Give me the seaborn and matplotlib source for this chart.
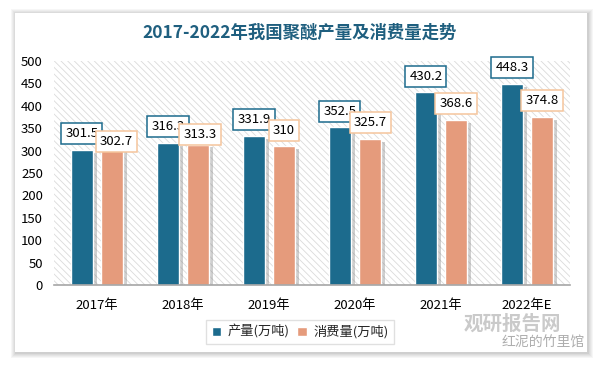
import matplotlib
matplotlib.use("Agg")
import matplotlib.pyplot as plt
import matplotlib.patheffects as pe
from matplotlib.patches import Rectangle
import seaborn as sns
import pandas as pd

categories = ["2017年", "2018年", "2019年", "2020年", "2021年", "2022年E"]
production = [301.5, 316.3, 331.9, 352.5, 430.2, 448.3]
consumption = [302.7, 313.3, 310, 325.7, 368.6, 374.8]
series_names = ["产量(万吨)", "消费量(万吨)"]
yticks = [0, 50, 100, 150, 200, 250, 300, 350, 400, 450, 500]

# label placement tweaks (pixels) for the consumption labels
cons_dx = [4, 2, 0, 0, 0, 0]
cons_dy = [-3, 0, 5, 6, 6, 6]
prod_dy = [6, 6, 6, 5, 5, 6]

sns.set_theme(style="white")
plt.rcParams["font.family"] = ["Noto Sans CJK SC", "DejaVu Sans"]
plt.rcParams["hatch.linewidth"] = 0.6

BLUE = "#1c6b8d"
ORANGE = "#e59b7c"
ORANGE_EDGE = "#f5c59c"

df = pd.DataFrame({
    "year": categories * 2,
    "value": production + consumption,
    "series": [series_names[0]] * len(categories) + [series_names[1]] * len(categories),
})

fig = plt.figure(figsize=(6, 3.65), dpi=100)
fig.patch.set_facecolor("white")

# card shadow + card
W, H = 600, 365
cx0, cy0, cx1, cy1 = 15, 13, 587, 352
for i, a in enumerate([0.035, 0.035, 0.035, 0.04, 0.05]):
    d = 5 - i
    fig.patches.append(Rectangle(((cx0 - d + 1) / W, 1 - (cy1 + d + 1) / H),
                                 (cx1 - cx0 + 2 * d) / W, (cy1 - cy0 + 2 * d) / H,
                                 transform=fig.transFigure, facecolor="black",
                                 alpha=a, edgecolor="none", zorder=-3))
fig.patches.append(Rectangle((cx0 / W, 1 - cy1 / H), (cx1 - cx0) / W, (cy1 - cy0) / H,
                             transform=fig.transFigure, facecolor="white",
                             edgecolor="none", zorder=-2))

ax = fig.add_axes([54 / W, 1 - 285 / H, (570 - 54) / W, (285 - 61) / H])
ax.set_facecolor("none")
ax.add_patch(Rectangle((0, 0), 1, 1, transform=ax.transAxes, facecolor="white",
                       edgecolor="#dadada", hatch="\\\\\\\\\\", linewidth=0, zorder=0))

sns.barplot(data=df, x="year", y="value", hue="series", order=categories,
            hue_order=series_names, palette=[BLUE, ORANGE], saturation=1,
            width=0.7, gap=0.24, edgecolor="white", linewidth=1.0, ax=ax,
            legend=True, zorder=2)

for p in ax.patches:
    if p.get_height() > 0 and p.get_width() < 1:
        p.set_path_effects([pe.SimplePatchShadow(offset=(2.5, -2), shadow_rgbFace="#777777", alpha=0.35),
                            pe.Normal()])

ax.set_ylim(0, 500)
ax.set_xlim(-0.5, len(categories) - 0.5)
ax.set_yticks(yticks)
ax.set_yticklabels([str(v) for v in yticks], fontsize=9.5, color="#000000")
ax.tick_params(axis="x", labelsize=9.5, colors="#000000", pad=10, length=0)
ax.tick_params(axis="y", length=0, pad=8)
ax.set_xlabel("")
ax.set_ylabel("")
for s in ["top", "right", "left"]:
    ax.spines[s].set_visible(False)
ax.spines["bottom"].set_color("#a6a6a6")
ax.spines["bottom"].set_linewidth(1.2)
ax.spines["bottom"].set_zorder(3)

# data labels
containers = ax.containers
for i, (cont, vals) in enumerate(zip(containers, [production, consumption])):
    for j, (bar, v) in enumerate(zip(cont, vals)):
        x = bar.get_x() + bar.get_width() / 2
        if i == 0:
            dx, dy, ec = 0, prod_dy[j], BLUE
        else:
            dx, dy, ec = cons_dx[j], cons_dy[j], ORANGE_EDGE
        ax.annotate(f"{v:g}", (x, v), xytext=(dx, dy + 4), textcoords="offset pixels",
                    ha="center", va="bottom", fontsize=9.5, color="#000000", zorder=5,
                    bbox=dict(boxstyle="square,pad=0.3", facecolor="white", edgecolor=ec, linewidth=1.1))

leg = ax.legend(loc="center", bbox_to_anchor=(300 / W, 1 - 332 / H), bbox_transform=fig.transFigure,
                ncol=2, frameon=True, fontsize=9.5, handlelength=0.7, handleheight=0.7,
                handletextpad=0.5, columnspacing=0.6, borderpad=0.4, fancybox=False)
leg.get_frame().set_edgecolor("#d9d9d9")
leg.get_frame().set_linewidth(1)

fig.text(300 / W, 1 - 33 / H, "2017-2022年我国聚醚产量及消费量走势", ha="center", va="center",
         fontsize=12.5, fontweight="bold", color="#1f5f7f")

# watermark
fig.text(512 / W, 1 - 324 / H, "观研报告网", ha="center", va="center", fontsize=14,
         fontweight="bold", color="#bdbdbd", alpha=0.8, zorder=6)
fig.text(543 / W, 1 - 343 / H, "红泥的竹里馆", ha="center", va="center", fontsize=10,
         color="#9a9a9a", alpha=0.8, zorder=6)

fig.savefig("out.png", dpi=100, facecolor="white")
